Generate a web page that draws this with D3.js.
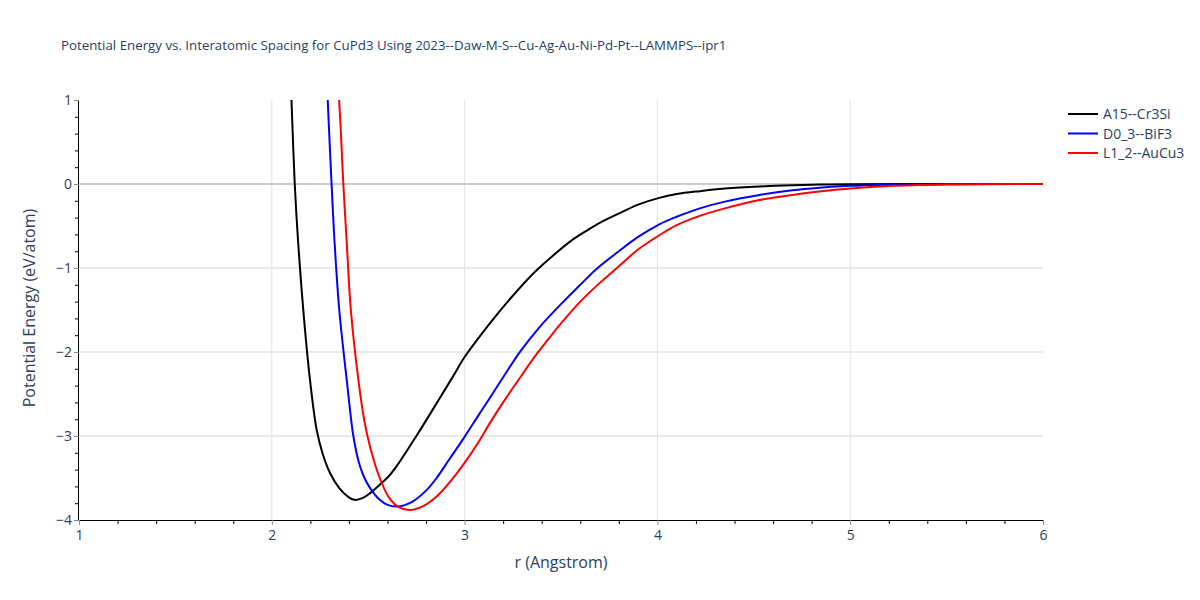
<!DOCTYPE html>
<html>
<head>
<meta charset="utf-8">
<script src="https://cdn.jsdelivr.net/npm/d3@7"></script>
<style>
  body { margin: 0; background: #fff; }
  text { font-family: "Open Sans", verdana, arial, sans-serif; fill: #2a3f5f; }
</style>
</head>
<body>
<script>
// values
var seriesNames = ["A15--Cr3Si", "D0_3--BiF3", "L1_2--AuCu3"];
var seriesColors = ["#000000", "#0000ff", "#ff0000"];

var rA15 = [2.095, 2.102, 2.119, 2.136, 2.167, 2.198, 2.233, 2.265, 2.302, 2.35, 2.40, 2.43, 2.47, 2.51, 2.56, 2.61, 2.665, 2.75, 2.855, 2.94, 3.0, 3.07, 3.18, 3.25, 3.35, 3.45, 3.55, 3.63, 3.72, 3.81, 3.9, 4.01, 4.1, 4.22, 4.35, 4.53, 4.7, 4.85, 5.0, 5.5, 6.0];
var eA15 = [1.4, 1.0, 0, -0.67, -1.6, -2.33, -2.93, -3.22, -3.44, -3.62, -3.73, -3.76, -3.74, -3.68, -3.58, -3.47, -3.30, -3.0, -2.61, -2.29, -2.06, -1.84, -1.52, -1.33, -1.08, -0.87, -0.68, -0.56, -0.44, -0.34, -0.245, -0.165, -0.12, -0.085, -0.055, -0.03, -0.015, -0.007, -0.003, 0, 0];

var rD03 = [2.283, 2.29, 2.31, 2.325, 2.35, 2.39, 2.423, 2.45, 2.475, 2.51, 2.56, 2.60, 2.65, 2.73, 2.80, 2.855, 2.92, 3.0, 3.07, 3.13, 3.2, 3.29, 3.39, 3.5, 3.6, 3.68, 3.8, 3.9, 4.01, 4.1, 4.22, 4.35, 4.53, 4.7, 4.84, 5.0, 5.2, 5.5, 6.0];
var eD03 = [1.4, 1.0, 0, -0.67, -1.5, -2.36, -3.0, -3.3, -3.47, -3.62, -3.76, -3.82, -3.84, -3.78, -3.65, -3.50, -3.28, -3.01, -2.76, -2.55, -2.3, -1.99, -1.70, -1.43, -1.20, -1.02, -0.80, -0.63, -0.48, -0.39, -0.29, -0.21, -0.13, -0.075, -0.045, -0.022, -0.01, -0.002, 0];

var rL12 = [2.333, 2.349, 2.371, 2.388, 2.41, 2.449, 2.48, 2.51, 2.56, 2.61, 2.66, 2.72, 2.78, 2.855, 2.93, 3.0, 3.07, 3.13, 3.2, 3.28, 3.375, 3.43, 3.5, 3.6, 3.7, 3.79, 3.9, 4.01, 4.1, 4.22, 4.35, 4.53, 4.7, 4.84, 5.0, 5.2, 5.5, 6.0];
var eL12 = [1.4, 1.0, 0, -0.67, -1.5, -2.33, -2.82, -3.13, -3.5, -3.74, -3.85, -3.88, -3.84, -3.72, -3.53, -3.32, -3.08, -2.85, -2.6, -2.33, -2.02, -1.86, -1.66, -1.40, -1.18, -1.0, -0.78, -0.61, -0.49, -0.38, -0.29, -0.19, -0.13, -0.09, -0.055, -0.025, -0.007, 0];

var xTicks = [1, 2, 3, 4, 5, 6];
var yTicks = [1, 0, -1, -2, -3, -4];

var allR = [rA15, rD03, rL12];
var allE = [eA15, eD03, eL12];

// page layout
var w = 1200, h = 600;
var margin = {left: 79, right: 157, top: 100, bottom: 80};
var pw = w - margin.left - margin.right;
var ph = h - margin.top - margin.bottom;

var svg = d3.select("body").append("svg").attr("width", w).attr("height", h);

var xScale = d3.scaleLinear().domain([1, 6]).range([margin.left, margin.left + pw]);
var yScale = d3.scaleLinear().domain([-4, 1]).range([margin.top + ph, margin.top]);

// grid
svg.append("g").selectAll("line")
    .data(xTicks.slice(1, -1))
    .enter().append("line")
    .attr("x1", (d) => xScale(d)).attr("x2", (d) => xScale(d))
    .attr("y1", margin.top).attr("y2", margin.top + ph)
    .attr("stroke", "#e2e2e2").attr("stroke-width", 1);

svg.append("g").selectAll("line")
    .data(yTicks.filter((d) => d != 0 && d != -4 && d != 1))
    .enter().append("line")
    .attr("x1", margin.left).attr("x2", margin.left + pw)
    .attr("y1", (d) => yScale(d)).attr("y2", (d) => yScale(d))
    .attr("stroke", "#e2e2e2").attr("stroke-width", 1.5);

// zero line
svg.append("line")
    .attr("x1", margin.left).attr("x2", margin.left + pw)
    .attr("y1", yScale(0)).attr("y2", yScale(0))
    .attr("stroke", "#cccccc").attr("stroke-width", 2);

// curves
svg.append("clipPath").attr("id", "plotclip")
    .append("rect")
    .attr("x", margin.left).attr("y", margin.top)
    .attr("width", pw).attr("height", ph);

var line = d3.line()
    .x((d) => xScale(d[0]))
    .y((d) => yScale(d[1]))
    .curve(d3.curveCatmullRom.alpha(0.5));

svg.append("g").attr("clip-path", "url(#plotclip)")
    .selectAll("path")
    .data(seriesNames)
    .enter().append("path")
    .attr("d", (d, i) => line(allR[i].map((r, j) => [r, allE[i][j]])))
    .attr("fill", "none")
    .attr("stroke", (d, i) => seriesColors[i])
    .attr("stroke-width", 2)
    .attr("stroke-linejoin", "round");

// axes
var xMinor = d3.range(1, 6.001, 0.2).filter((d) => Math.abs(d - Math.round(d)) > 0.01);
var yMinor = d3.range(-4, 1.001, 0.2).filter((d) => Math.abs(d - Math.round(d)) > 0.01);

var xAxis = d3.axisBottom(xScale).tickValues(xTicks).tickFormat(d3.format("d")).tickSize(5).tickPadding(5);
var yAxis = d3.axisLeft(yScale).tickValues(yTicks).tickFormat((d) => d < 0 ? "\u2212" + Math.abs(d) : d).tickSize(5).tickPadding(2);

var gx = svg.append("g").attr("transform", "translate(0," + (margin.top + ph) + ")");
gx.call(d3.axisBottom(xScale).tickValues(xMinor).tickFormat("").tickSize(4)).select(".domain").remove();
gx.selectAll("line").attr("stroke", "#000");
var gxMain = svg.append("g").attr("transform", "translate(0," + (margin.top + ph) + ")").call(xAxis);
gxMain.selectAll(".tick line").attr("stroke", "#888");
gxMain.selectAll("text").style("font-size", "14px").attr("fill", "#2a3f5f");
gxMain.select(".domain").attr("stroke", "#000").attr("d", "M" + margin.left + ",0.5H" + (margin.left + pw));

var gy = svg.append("g").attr("transform", "translate(" + margin.left + ",0)");
gy.call(d3.axisLeft(yScale).tickValues(yMinor).tickFormat("").tickSize(4)).select(".domain").remove();
gy.selectAll("line").attr("stroke", "#000");
var gyMain = svg.append("g").attr("transform", "translate(" + margin.left + ",0)").call(yAxis);
gyMain.selectAll(".tick line").attr("stroke", "#888");
gyMain.selectAll("text").style("font-size", "14px").attr("fill", "#2a3f5f");
gyMain.select(".domain").attr("stroke", "#000").attr("d", "M-0.5," + margin.top + "V" + (margin.top + ph));

// labels
svg.append("text")
    .text("Potential Energy vs. Interatomic Spacing for CuPd3 Using 2023--Daw-M-S--Cu-Ag-Au-Ni-Pd-Pt--LAMMPS--ipr1")
    .attr("x", 61).attr("y", 50)
    .style("font-size", "13.3px");

svg.append("text")
    .text("r (Angstrom)")
    .attr("x", margin.left + pw / 2).attr("y", 568)
    .attr("text-anchor", "middle")
    .style("font-size", "16px");

svg.append("text")
    .text("Potential Energy (eV/atom)")
    .attr("transform", "translate(35," + (margin.top + ph / 2 - 2) + ") rotate(-90)")
    .attr("text-anchor", "middle")
    .style("font-size", "16px");

// legend
var legend = svg.append("g").selectAll("g")
    .data(seriesNames)
    .enter().append("g")
    .attr("transform", (d, i) => "translate(1068," + (114 + i * 19.5) + ")");

legend.append("line")
    .attr("x1", 0).attr("x2", 30).attr("y1", 0).attr("y2", 0)
    .attr("stroke", (d, i) => seriesColors[i])
    .attr("stroke-width", 2);

legend.append("text")
    .text((d) => d)
    .attr("x", 35).attr("y", 5)
    .style("font-size", "14px");
</script>
</body>
</html>
